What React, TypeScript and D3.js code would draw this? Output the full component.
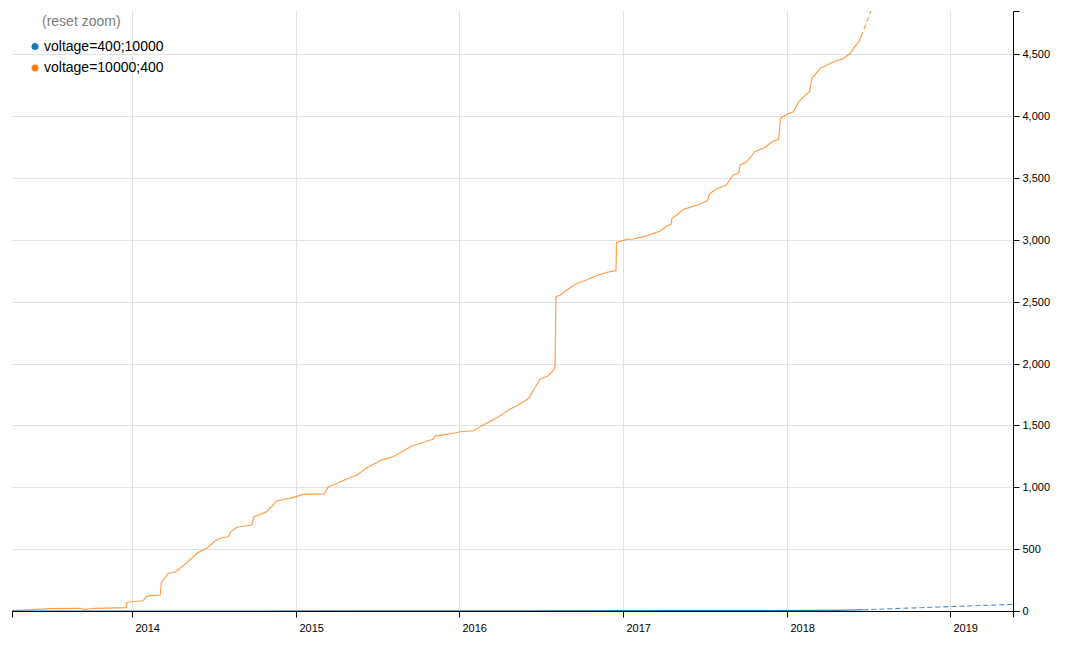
import React from "react";
import * as d3 from "d3";

const seriesNames = ["voltage=400;10000", "voltage=10000;400"];
const seriesColors = ["#1f77b4", "#ff7f0e"];

const orangeDates = [
  "2013-04-08", "2013-07-02", "2013-09-07", "2013-09-18", "2013-10-10", "2013-12-19", "2013-12-20",
  "2013-12-31", "2014-01-26", "2014-02-01", "2014-02-10", "2014-03-05", "2014-03-07", "2014-03-12",
  "2014-03-23", "2014-04-07", "2014-04-18", "2014-05-03", "2014-05-14", "2014-05-29", "2014-06-17",
  "2014-07-05", "2014-07-20", "2014-08-04", "2014-08-08", "2014-08-23", "2014-09-25", "2014-09-30",
  "2014-10-29", "2014-11-20", "2014-12-27", "2015-01-18", "2015-03-06", "2015-03-15", "2015-03-26",
  "2015-04-25", "2015-05-18", "2015-06-09", "2015-06-24", "2015-07-12", "2015-08-07", "2015-08-30",
  "2015-09-17", "2015-10-17", "2015-11-05", "2015-11-08", "2015-12-12", "2016-01-03", "2016-02-02",
  "2016-02-24", "2016-03-25", "2016-04-24", "2016-05-12", "2016-06-04", "2016-06-15", "2016-06-30",
  "2016-07-18", "2016-07-30", "2016-08-02", "2016-08-04", "2016-08-14", "2016-08-25", "2016-09-20",
  "2016-10-05", "2016-10-27", "2016-11-26", "2016-12-16", "2016-12-17", "2017-01-09", "2017-01-24",
  "2017-02-23", "2017-03-25", "2017-04-09", "2017-04-18", "2017-04-20", "2017-05-01", "2017-05-16",
  "2017-06-15", "2017-07-08", "2017-07-13", "2017-07-26", "2017-08-19", "2017-08-30", "2017-09-04",
  "2017-09-16", "2017-09-19", "2017-10-04", "2017-10-16", "2017-10-21", "2017-11-14", "2017-11-29",
  "2017-12-14", "2017-12-18", "2018-01-02", "2018-01-16", "2018-01-28", "2018-02-12", "2018-02-21",
  "2018-02-26", "2018-03-17", "2018-04-16", "2018-05-08", "2018-05-23", "2018-05-30", "2018-06-11",
  "2018-06-16",
];
const orangeValues = [
  4, 20, 22, 12, 22, 27, 67,
  75, 83, 116, 124, 129, 224, 251,
  305, 313, 345, 390, 426, 474, 507,
  566, 592, 600, 636, 677, 695, 762,
  803, 889, 919, 943, 946, 1005, 1018,
  1067, 1099, 1158, 1186, 1220, 1247, 1296,
  1334, 1368, 1390, 1414, 1431, 1449, 1457,
  1503, 1562, 1633, 1665, 1719, 1786, 1875,
  1902, 1948, 1975, 2540, 2554, 2587, 2649,
  2667, 2702, 2738, 2751, 2980, 3004, 3007,
  3034, 3072, 3112, 3128, 3174, 3201, 3247,
  3282, 3316, 3371, 3409, 3443, 3502, 3524,
  3538, 3605, 3632, 3686, 3713, 3748, 3793,
  3813, 3982, 4017, 4036, 4117, 4171, 4198,
  4306, 4387, 4440, 4467, 4508, 4548, 4602,
  4642,
];
const orangeForecastDates = ["2018-06-16", "2018-07-10"];
const orangeForecastValues = [4642, 4870];

const blueDates = ["2013-04-08", "2014-06-01", "2015-06-01", "2016-06-01", "2017-06-01", "2018-04-20", "2018-06-21"];
const blueValues = [0, 0, 1, 2, 3, 5, 10];
const blueForecastDates = ["2018-06-21", "2019-05-21"];
const blueForecastValues = [10, 54];

const yTicks = [0, 500, 1000, 1500, 2000, 2500, 3000, 3500, 4000, 4500];
const xTickYears = [2014, 2015, 2016, 2017, 2018, 2019];
const xDomain = ["2013-04-08", "2019-05-21"];
const yDomain = [0, 4850];

const parse = d3.timeParse("%Y-%m-%d");

export default function App() {
  const left = 12, right = 1013, top = 11, bottom = 611;
  const x = d3.scaleTime().domain(xDomain.map((d) => parse(d) as Date)).range([left, right]);
  const y = d3.scaleLinear().domain(yDomain).range([bottom, top]);
  const fmt = d3.format(",");
  const line = d3
    .line<[string, number]>()
    .x((d) => x(parse(d[0]) as Date))
    .y((d) => y(d[1]));
  const zip = (a: string[], b: number[]) => a.map((d, i) => [d, b[i]] as [string, number]);
  const xTicks = xTickYears.map((yr) => new Date(yr, 0, 1));
  const font = "'Liberation Sans', Arial, Helvetica, sans-serif";

  return (
    <svg
      width={1067}
      height={646}
      style={{ position: "absolute", left: 0, top: 0, background: "#fff" }}
      fontFamily={font}
    >
      <defs>
        <clipPath id="plot">
          <rect x={left} y={top} width={right - left} height={bottom - top} />
        </clipPath>
      </defs>
      {/* grid */}
      <g stroke="#e2e2e2" strokeWidth={1}>
        {yTicks.map((t) => (
          <line key={"gy" + t} x1={left} x2={right} y1={Math.round(y(t)) + 0.5} y2={Math.round(y(t)) + 0.5} />
        ))}
        {xTicks.map((t, i) => (
          <line key={"gx" + i} x1={Math.round(x(t)) + 0.5} x2={Math.round(x(t)) + 0.5} y1={top} y2={bottom} />
        ))}
      </g>
      {/* x axis */}
      <g>
        <path
          d={`M${left + 0.5},${bottom + 6.5}V${bottom + 0.5}H${right + 0.5}V${bottom + 6.5}`}
          fill="none"
          stroke="#000"
        />
        {xTicks.map((t, i) => (
          <g key={"xt" + i} transform={`translate(${Math.round(x(t)) + 0.5},${bottom + 0.5})`}>
            <line y2={6} stroke="#000" />
            <text x={3} y={20} fontSize={11} fill="#000">
              {xTickYears[i]}
            </text>
          </g>
        ))}
      </g>
      {/* y axis */}
      <g>
        <path
          d={`M${right + 6.5},${top + 0.5}H${right + 0.5}V${bottom + 0.5}H${right + 6.5}`}
          fill="none"
          stroke="#000"
        />
        {yTicks.map((t) => (
          <g key={"yt" + t} transform={`translate(${right + 0.5},${Math.round(y(t)) + 0.5})`}>
            <line x2={6} stroke="#000" />
            <text x={9} dy="0.32em" fontSize={11} fill="#000">
              {fmt(t)}
            </text>
          </g>
        ))}
      </g>
      {/* lines */}
      <g clipPath="url(#plot)" fill="none">
        <path d={line(zip(orangeDates, orangeValues)) || ""} stroke={seriesColors[1]} strokeWidth={1.2} strokeOpacity={0.75} />
        <path
          d={line(zip(orangeForecastDates, orangeForecastValues)) || ""}
          stroke={seriesColors[1]}
          strokeWidth={1.2}
          strokeOpacity={0.75}
          strokeDasharray="5,3"
        />
        <path d={line(zip(blueDates, blueValues)) || ""} stroke={seriesColors[0]} strokeWidth={1.1} />
        <path
          d={line(zip(blueForecastDates, blueForecastValues)) || ""}
          stroke={seriesColors[0]}
          strokeWidth={1.1}
          strokeOpacity={0.8}
          strokeDasharray="5,3"
        />
      </g>
      {/* legend */}
      <text x={42} y={26} fontSize={14} fill="#808080">
        (reset zoom)
      </text>
      {seriesNames.map((name, i) => (
        <g key={name} transform={`translate(35,${46.5 + i * 21.5})`}>
          <circle r={3.5} fill={seriesColors[i]} />
          <text x={9} dy="0.32em" fontSize={14} fill="#000">
            {name}
          </text>
        </g>
      ))}
    </svg>
  );
}
